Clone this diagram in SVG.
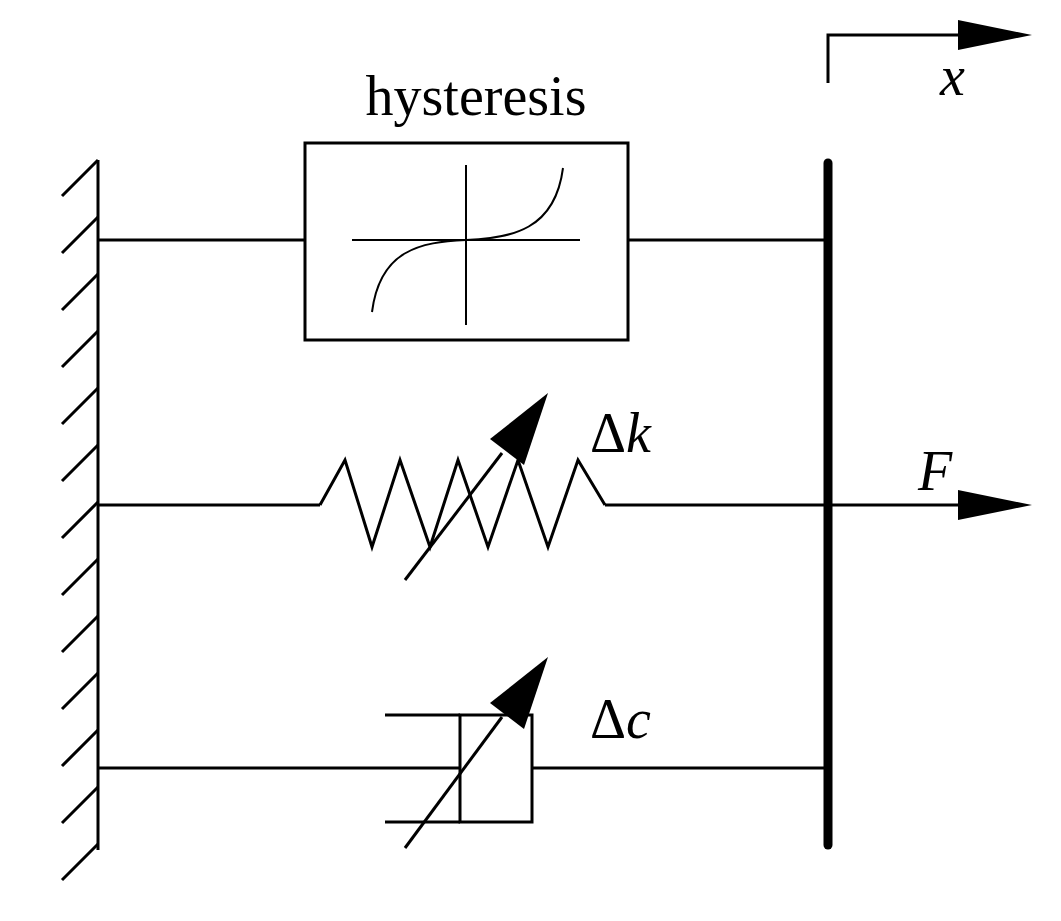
<svg xmlns="http://www.w3.org/2000/svg" width="1061" height="921" viewBox="0 0 1061 921">
<defs>
<marker id="ah" markerWidth="10" markerHeight="6" refX="10" refY="3" orient="auto" markerUnits="userSpaceOnUse" viewBox="0 0 10 6"><path d="M0,0L10,3L0,6z" fill="#000"/></marker>
<style>.l{stroke:#000;stroke-width:3;fill:none}.t{font-family:'Liberation Serif',serif;font-size:56px}</style>
</defs>
<rect width="1061" height="921" fill="#fff"/>
<g id="wall" class="l">
<line x1="98" y1="160" x2="98" y2="850"/>
<path d="M98,160l-36,36M98,217l-36,36M98,274l-36,36M98,331l-36,36M98,388l-36,36M98,445l-36,36M98,502l-36,36M98,559l-36,36M98,616l-36,36M98,673l-36,36M98,730l-36,36M98,787l-36,36M98,844l-36,36"/>
</g>
<g id="bar"><line x1="828" y1="163" x2="828" y2="845" stroke="#000" stroke-width="9" stroke-linecap="round"/></g>
<g id="connectors" class="l">
<line x1="98" y1="240" x2="305" y2="240"/>
<line x1="628" y1="240" x2="828" y2="240"/>
<line x1="98" y1="505" x2="320" y2="505"/>
<line x1="605" y1="505" x2="828" y2="505"/>
<line x1="98" y1="768" x2="460" y2="768"/>
<line x1="532" y1="768" x2="828" y2="768"/>
<line x1="828" y1="505" x2="958" y2="505"/>
<polyline points="828,83 828,35 958,35"/>
</g>
<g id="hysteresis">
<rect x="305" y="143" width="323" height="197" class="l"/>
<line x1="352" y1="240" x2="580" y2="240" stroke="#000" stroke-width="2"/>
<line x1="466" y1="165" x2="466" y2="325" stroke="#000" stroke-width="2"/>
<path d="M372,312C380,250 420,242 466,240C512,238 555,230 563,168" stroke="#000" stroke-width="2" fill="none"/>
<text x="476" y="115" class="t" text-anchor="middle">hysteresis</text>
</g>
<g id="spring">
<polyline class="l" points="320,505 345,460 372,547 400,460 430,547 458,460 488,547 518,460 548,547 578,460 605,505"/>
<line x1="405" y1="580" x2="502" y2="453" class="l"/>
<path d="M548,393L524,465L490,439z"/>
<text x="590" y="452" class="t">Δ<tspan font-style="italic">k</tspan></text>
</g>
<g id="damper" class="l">
<line x1="385" y1="715" x2="460" y2="715"/>
<line x1="385" y1="822" x2="460" y2="822"/>
<rect x="460" y="715" width="72" height="107"/>
<line x1="405" y1="848" x2="502" y2="717"/>
<path d="M548,657L524,729L490,703z" fill="#000" stroke="none"/>
</g>
<text x="590" y="738" class="t">Δ<tspan font-style="italic">c</tspan></text>
<g id="force">
<path d="M1032,505L958,490L958,520z"/>
<text x="918" y="490" class="t" font-style="italic">F</text>
</g>
<g id="disp">
<path d="M1032,35L958,20L958,50z"/>
<text x="940" y="95" class="t" font-style="italic">x</text>
</g>
</svg>
